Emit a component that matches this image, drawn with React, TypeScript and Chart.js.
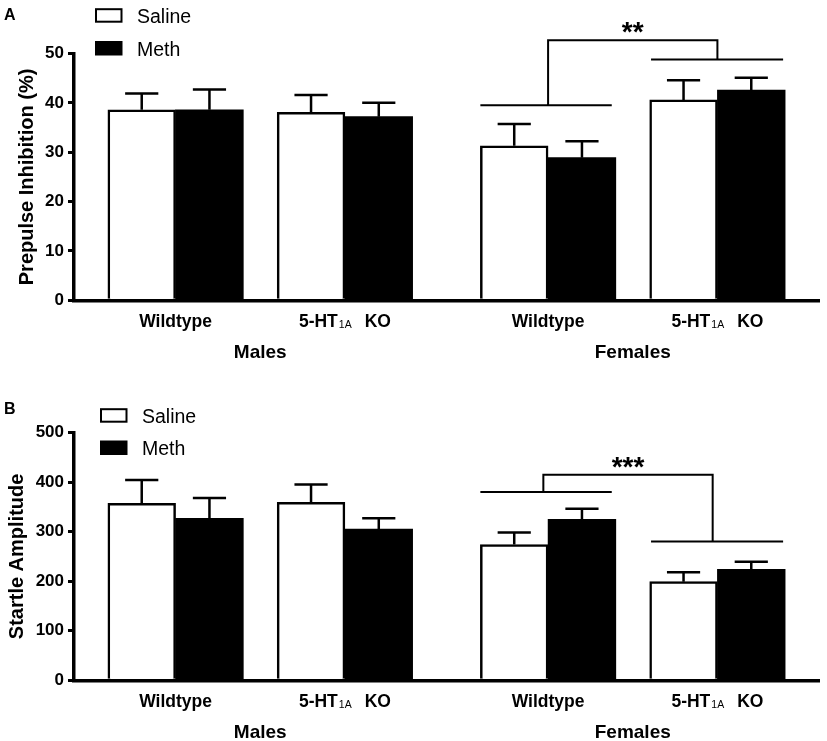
import React, { useEffect, useRef } from 'react';
import { Chart, registerables } from 'chart.js';

Chart.register(...registerables);

const FONT = "'Liberation Sans', Arial, Helvetica, sans-serif";
Chart.defaults.font.family = FONT;
Chart.defaults.color = '#000';

// ---------- data ----------
const SEXES = ['Males', 'Females'];
const GENOTYPES = ['Wildtype', '5-HT1A KO', 'Wildtype', '5-HT1A KO'];
const TREATMENTS = ['Saline', 'Meth'];

const PPI_SALINE = [38.6, 38.1, 31.3, 40.6];
const PPI_SALINE_SEM = [3.3, 3.5, 4.4, 4.0];
const PPI_METH = [38.6, 37.2, 28.9, 42.6];
const PPI_METH_SEM = [4.1, 2.8, 3.3, 2.5];
const PPI_TICKS = [0, 10, 20, 30, 40, 50];
const PPI_BRACKET = [39.5, 48.8, 52.7]; // WT line, KO line, top
const PPI_SIG = '**';

const STARTLE_SALINE = [357, 359, 274, 199];
const STARTLE_SALINE_SEM = [47, 36, 24, 19];
const STARTLE_METH = [327, 305, 325, 224];
const STARTLE_METH_SEM = [41, 22, 21, 15];
const STARTLE_TICKS = [0, 100, 200, 300, 400, 500];
const STARTLE_BRACKET = [380, 280, 415];
const STARTLE_SIG = '***';

// ---------- layout helpers ----------
const groupCenter = (i: number) => 1.5 + 2.5 * i + (i >= 2 ? 0.5 : 0);
const sexCenter = (s: number) => (groupCenter(2 * s) + groupCenter(2 * s + 1)) / 2;

type PanelCfg = {
  letter: string;
  letterY: number;
  yTitle: string;
  titlePad: number;
  ticks: number[];
  saline: number[];
  salineSem: number[];
  meth: number[];
  methSem: number[];
  bracket: number[];
  bracketShift: number;
  sig: string;
  plotTop: number;
  legendX: number;
  legendY: number[];
  height: number;
};

const PLOT_BOTTOM = 300.3;

function drawGenotype(ctx: CanvasRenderingContext2D, text: string, cx: number, baseline: number) {
  const MAIN = `bold 17.5px ${FONT}`;
  const SUB = `10.5px ${FONT}`;
  const m = text.match(/^(.*?HT)(1A)\s+(.*)$/);
  ctx.fillStyle = '#000';
  if (!m) {
    ctx.font = MAIN;
    ctx.textAlign = 'center';
    ctx.textBaseline = 'alphabetic';
    ctx.fillText(text, cx, baseline);
    return;
  }
  ctx.font = MAIN;
  const w1 = ctx.measureText(m[1]).width;
  const w3 = ctx.measureText(m[3]).width;
  ctx.font = SUB;
  const w2 = ctx.measureText(m[2]).width;
  const gap = 13;
  const total = w1 + 1 + w2 + gap + w3;
  let xx = cx - total / 2;
  ctx.textAlign = 'left';
  ctx.textBaseline = 'alphabetic';
  ctx.font = MAIN;
  ctx.fillText(m[1], xx, baseline);
  xx += w1 + 1;
  ctx.font = SUB;
  ctx.fillText(m[2], xx, baseline + 1);
  xx += w2 + gap;
  ctx.font = MAIN;
  ctx.fillText(m[3], xx, baseline);
}

const annotate = {
  id: 'annotate',
  afterDatasetsDraw(chart: any, _args: any, opts: any) {
    const cfg: PanelCfg = opts.cfg;
    const { ctx, chartArea } = chart;
    const x = chart.scales.x;
    const y = chart.scales.y;
    ctx.save();
    ctx.strokeStyle = '#000';
    ctx.fillStyle = '#000';
    ctx.lineCap = 'butt';

    // error bars
    const sems = [cfg.salineSem, cfg.methSem];
    chart.data.datasets.forEach((ds: any, di: number) => {
      ds.data.forEach((pt: any, i: number) => {
        const px = x.getPixelForValue(pt.x);
        const y0 = y.getPixelForValue(pt.y);
        const y1 = y.getPixelForValue(pt.y + sems[di][i]);
        const half = x.getPixelForValue(pt.x + 0.245) - px;
        ctx.lineWidth = 2.5;
        ctx.beginPath();
        ctx.moveTo(px, y0);
        ctx.lineTo(px, y1);
        ctx.moveTo(px - half, y1);
        ctx.lineTo(px + half, y1);
        ctx.stroke();
      });
    });

    // significance bracket
    const cWT = groupCenter(2);
    const cKO = groupCenter(3);
    const [wtLv, koLv, topLv] = cfg.bracket;
    const vx1 = x.getPixelForValue(cWT + cfg.bracketShift);
    const vx2 = x.getPixelForValue(cKO + cfg.bracketShift);
    const yWT = y.getPixelForValue(wtLv);
    const yKO = y.getPixelForValue(koLv);
    const yTop = y.getPixelForValue(topLv);
    ctx.lineWidth = 2;
    ctx.beginPath();
    ctx.moveTo(x.getPixelForValue(cWT - 1.0), yWT);
    ctx.lineTo(x.getPixelForValue(cWT + 0.94), yWT);
    ctx.moveTo(x.getPixelForValue(cKO - 0.98), yKO);
    ctx.lineTo(x.getPixelForValue(cKO + 0.97), yKO);
    ctx.moveTo(vx1, yWT);
    ctx.lineTo(vx1, yTop);
    ctx.lineTo(vx2, yTop);
    ctx.lineTo(vx2, yKO);
    ctx.stroke();
    ctx.font = `bold 28px ${FONT}`;
    ctx.textAlign = 'center';
    ctx.textBaseline = 'alphabetic';
    ctx.fillText(cfg.sig, (vx1 + vx2) / 2, yTop + 1);

    // category labels
    GENOTYPES.forEach((g, i) => {
      drawGenotype(ctx, g, x.getPixelForValue(groupCenter(i)), chartArea.bottom + 27);
    });
    ctx.font = `bold 19px ${FONT}`;
    ctx.textAlign = 'center';
    ctx.textBaseline = 'alphabetic';
    SEXES.forEach((s, i) => {
      ctx.fillText(s, x.getPixelForValue(sexCenter(i)), chartArea.bottom + 58);
    });

    // legend
    chart.data.datasets.forEach((ds: any, di: number) => {
      const bx = cfg.legendX;
      const bBottom = cfg.legendY[di];
      const bw = 27.5;
      const bh = 14.5;
      if (di === 0) {
        ctx.fillStyle = '#fff';
        ctx.fillRect(bx, bBottom - bh, bw, bh);
        ctx.lineWidth = 2;
        ctx.strokeStyle = '#000';
        ctx.strokeRect(bx + 1, bBottom - bh + 1, bw - 2, bh - 2);
      } else {
        ctx.fillStyle = '#000';
        ctx.fillRect(bx, bBottom - bh, bw, bh);
      }
      ctx.fillStyle = '#000';
      ctx.font = `19.5px ${FONT}`;
      ctx.textAlign = 'left';
      ctx.textBaseline = 'alphabetic';
      ctx.fillText(ds.label, bx + bw + 14.5, bBottom);
    });

    // panel letter
    ctx.font = `bold 16px ${FONT}`;
    ctx.textAlign = 'left';
    ctx.fillText(cfg.letter, 4, cfg.letterY);

    ctx.restore();
  },
};

function Panel({ cfg, top }: { cfg: PanelCfg; top: number }) {
  const ref = useRef<HTMLCanvasElement>(null);
  useEffect(() => {
    if (!ref.current) return;
    const chart = new Chart(ref.current, {
      type: 'bar',
      data: {
        datasets: [
          {
            label: TREATMENTS[0],
            data: cfg.saline.map((v, i) => ({ x: groupCenter(i) - 0.5, y: v })),
            backgroundColor: '#fff',
            borderColor: '#000',
            borderWidth: 2.5,
            grouped: false,
            barPercentage: 1,
            categoryPercentage: 1,
          } as any,
          {
            label: TREATMENTS[1],
            data: cfg.meth.map((v, i) => ({ x: groupCenter(i) + 0.5, y: v })),
            backgroundColor: '#000',
            borderColor: '#000',
            borderWidth: 0,
            grouped: false,
            barPercentage: 1,
            categoryPercentage: 1,
          } as any,
        ],
      },
      options: {
        responsive: false,
        animation: false,
        layout: { padding: { top: cfg.plotTop, right: 8, left: 0, bottom: 0 } },
        plugins: {
          legend: { display: false },
          tooltip: { enabled: false },
          annotate: { cfg },
        } as any,
        scales: {
          x: {
            type: 'linear',
            min: 0,
            max: 11,
            offset: false,
            ticks: { display: false, stepSize: 1 },
            grid: { display: false },
            border: { display: true, color: '#000', width: 3.5 },
            afterFit: (s: any) => {
              s.height = cfg.height - PLOT_BOTTOM;
            },
          },
          y: {
            min: 0,
            max: cfg.ticks[cfg.ticks.length - 1],
            afterBuildTicks: (s: any) => {
              s.ticks = cfg.ticks.map((v) => ({ value: v }));
            },
            ticks: {
              font: { size: 17, weight: 'bold' },
              color: '#000',
              padding: 4,
            },
            grid: {
              drawOnChartArea: false,
              color: '#000',
              lineWidth: 3,
              tickLength: 6,
            },
            border: { display: true, color: '#000', width: 3.5 },
            title: {
              display: true,
              text: cfg.yTitle,
              color: '#000',
              font: { size: 20, weight: 'bold' },
              padding: { top: cfg.titlePad, bottom: 0 },
            },
            afterFit: (s: any) => {
              s.width = 74;
            },
          },
        } as any,
      },
      plugins: [annotate],
    });
    return () => chart.destroy();
  }, []);
  return (
    <canvas
      ref={ref}
      width={827}
      height={cfg.height}
      style={{ position: 'absolute', left: 0, top, width: 827, height: cfg.height, display: 'block' }}
    />
  );
}

const PANEL_A: PanelCfg = {
  letter: 'A',
  letterY: 19.5,
  yTitle: 'Prepulse Inhibition (%)',
  titlePad: 15,
  ticks: PPI_TICKS,
  saline: PPI_SALINE,
  salineSem: PPI_SALINE_SEM,
  meth: PPI_METH,
  methSem: PPI_METH_SEM,
  bracket: PPI_BRACKET,
  bracketShift: 0,
  sig: PPI_SIG,
  plotTop: 53.5,
  legendX: 95,
  legendY: [22.7, 55.5],
  height: 380,
};

const PANEL_B: PanelCfg = {
  letter: 'B',
  letterY: 33.8,
  yTitle: 'Startle Amplitude',
  titlePad: 5,
  ticks: STARTLE_TICKS,
  saline: STARTLE_SALINE,
  salineSem: STARTLE_SALINE_SEM,
  meth: STARTLE_METH,
  methSem: STARTLE_METH_SEM,
  bracket: STARTLE_BRACKET,
  bracketShift: -0.07,
  sig: STARTLE_SIG,
  plotTop: 52.5,
  legendX: 100,
  legendY: [42.7, 75],
  height: 361,
};

export default function App() {
  return (
    <div style={{ position: 'absolute', left: 0, top: 0, width: 827, height: 741, background: '#fff', overflow: 'hidden' }}>
      <Panel cfg={PANEL_A} top={0} />
      <Panel cfg={PANEL_B} top={380} />
    </div>
  );
}
